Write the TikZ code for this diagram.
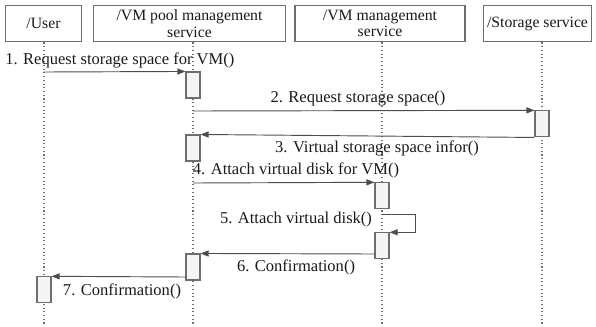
\documentclass[tikz,border=0pt]{standalone}
\usepackage{fontspec}
\setmainfont{Liberation Serif}
\usetikzlibrary{arrows.meta,calc}
\definecolor{edge}{HTML}{6E6E6E}
\definecolor{ink}{HTML}{1A1A1A}
\definecolor{actfill}{HTML}{F5F5F5}
\tikzset{
  head/.style={draw=edge, line width=0.9pt, fill=white, align=center, inner sep=1pt,
    font=\fontsize{11.8}{12.5}\selectfont, text=ink},
  lifeline/.style={draw=edge, line width=0.8pt, dotted},
  act/.style={draw=edge, line width=0.8pt, fill=actfill, minimum width=10.5pt, inner sep=0pt},
  msg/.style={draw=edge!70!black, line width=0.7pt, -{Triangle[length=6pt,width=4.5pt]}},
  lbl/.style={font=\fontsize{12.4}{13}\selectfont, text=ink, inner sep=0pt}
}
\begin{document}
\begin{tikzpicture}[x=0.75pt,y=-0.75pt]
\useasboundingbox (0,0) rectangle (596,326);
% participant headers
\node[head, minimum width=57pt, minimum height=27.5pt] (user) at (43.5,23.5) {/User};
\node[head, minimum width=144.5pt, minimum height=27.5pt] (pool) at (189.5,23.5) {/VM pool management\\service};
\node[head, minimum width=127.5pt, minimum height=27.5pt] (vmm) at (380,23.5) {/VM management\\service};
\node[head, minimum width=81.5pt, minimum height=27.5pt] (stor) at (537.5,23.5) {/Storage service};
% lifeline ends
\coordinate (userEnd) at (44,326);
\coordinate (poolEnd) at (193,326);
\coordinate (vmmEnd) at (382,326);
\coordinate (storEnd) at (542,326);
\draw[lifeline] (user.south -| userEnd) -- (userEnd);
\draw[lifeline] (pool.south -| poolEnd) -- (poolEnd);
\draw[lifeline] (vmm.south -| vmmEnd) -- (vmmEnd);
\draw[lifeline] (stor.south -| storEnd) -- (storEnd);
% activation bars
\node[act, minimum height=19.5pt] (a1) at (193,85) {};
\node[act, minimum height=19pt] (a2) at (542,123.5) {};
\node[act, minimum height=19.5pt] (a3) at (193,148) {};
\node[act, minimum height=19pt] (a4) at (382,195.5) {};
\node[act, minimum height=19pt] (a5) at (382,245.5) {};
\node[act, minimum height=19.5pt] (a6) at (193,267) {};
\node[act, minimum height=19pt] (a7) at (44,289.5) {};
% message anchors on lifelines
\coordinate (m1s) at (44,72);
\coordinate (m2s) at (193,111);
\coordinate (m4s) at (193,183);
\coordinate (m5s) at (382,214);
\coordinate (m5c) at (415,214);
\coordinate (m6s) at (375,254);
\coordinate (m7s) at (186,277);
% messages
\draw[msg] (m1s) -- (a1.north west);
\draw[msg] (m2s) -- (a2.north west);
\draw[msg] ($(a2.south west)+(0,0.75)$) -- (a3.north east);
\draw[msg] (m4s) -- (a4.north west);
\draw[msg] (m5s) -- (m5c) |- (a5.north east);
\draw[msg] (m6s) -- (a6.north east);
\draw[msg] (m7s) -- (a7.north east);
% labels
\node[lbl, anchor=west] (l1) at (5,60) {1. Request storage space for VM()};
\node[lbl] (l2) at (358,99) {2. Request storage space()};
\node[lbl] (l3) at (377,148) {3. Virtual storage space infor()};
\node[lbl] (l4) at (296,170) {4. Attach virtual disk for VM()};
\node[lbl] (l5) at (296,220) {5. Attach virtual disk()};
\node[lbl] (l6) at (296,267) {6. Confirmation()};
\node[lbl] (l7) at (122,291) {7. Confirmation()};
\end{tikzpicture}
\end{document}
